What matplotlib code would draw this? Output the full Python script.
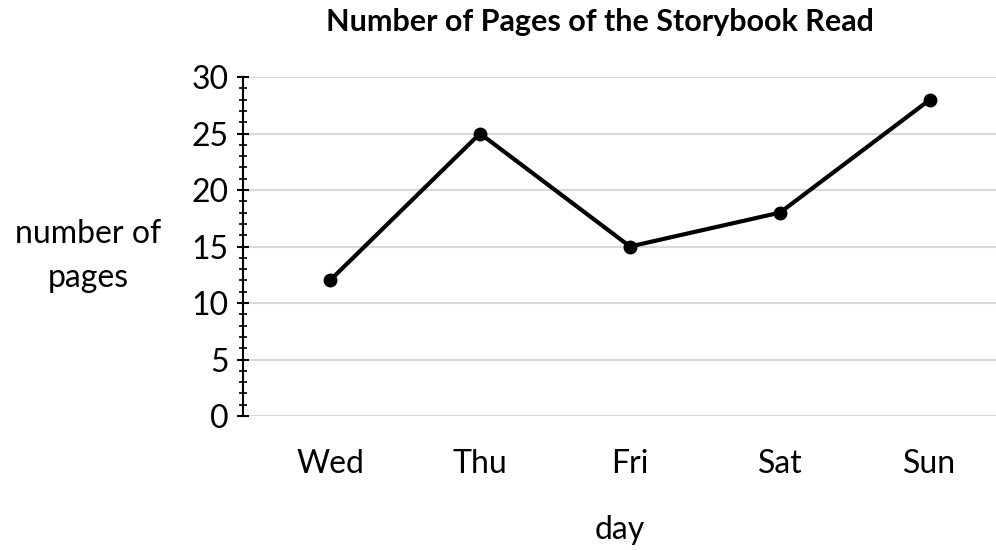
import matplotlib.pyplot as plt
from matplotlib.ticker import MultipleLocator

plt.rcParams['font.family'] = ['Lato', 'DejaVu Sans']

days = ['Wed', 'Thu', 'Fri', 'Sat', 'Sun']
pages = [12, 25, 15, 18, 28]

fig = plt.figure(figsize=(9.96, 5.5), dpi=100)
ax = fig.add_axes([0.244, 0.2436, 0.756, 0.6164])

x = list(range(len(days)))
ax.plot(x, pages, color='black', linewidth=3, marker='o', markersize=9, zorder=3)

ax.set_xlim(-0.58, 4.44)
ax.set_ylim(0, 30)
ax.yaxis.set_major_locator(MultipleLocator(5))
ax.yaxis.set_minor_locator(MultipleLocator(1))
ax.set_xticks(x)
ax.set_xticklabels(days)

ax.grid(axis='y', color='#d9d9d9', linewidth=1.5)
ax.set_axisbelow(True)
for s in ['top', 'right', 'bottom']:
    ax.spines[s].set_visible(False)
ax.spines['left'].set_linewidth(1.5)

ax.tick_params(axis='y', which='major', direction='inout', length=9, width=1.5, labelsize=23, pad=6)
ax.tick_params(axis='y', which='minor', direction='inout', length=6, width=1.2)
ax.tick_params(axis='x', length=0, labelsize=23, pad=24)

fig.text(600 / 996, 1 - 22 / 550, 'Number of Pages of the Storybook Read',
         ha='center', va='center', fontsize=22, fontweight='bold')
fig.text(88 / 996, 1 - 256 / 550, 'number of\npages', ha='center', va='center',
         fontsize=23, linespacing=1.55)
fig.text(620 / 996, 1 - 530 / 550, 'day', ha='center', va='center', fontsize=23)

fig.savefig('out.png', dpi=100)
